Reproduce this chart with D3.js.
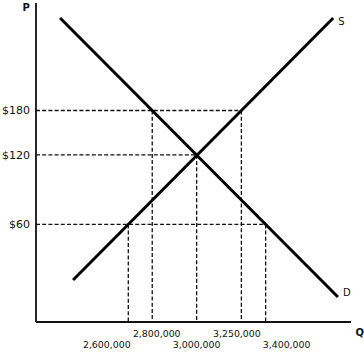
<!DOCTYPE html>
<html>
<head>
<meta charset="utf-8">
<script src="https://cdn.jsdelivr.net/npm/d3@7"></script>
<style>
  html, body { margin: 0; padding: 0; background: #fff; }
  svg { display: block; }
  text { font-family: "DejaVu Sans", Verdana, sans-serif; fill: #111; }
</style>
</head>
<body>
<svg id="chart" width="364" height="352"></svg>
<script>
// ---- data ----
const qTicks = [2600000, 2800000, 3000000, 3250000, 3400000];
const qTickLabels = ["2,600,000", "2,800,000", "3,000,000", "3,250,000", "3,400,000"];
const prices = [60, 120, 180];
const priceLabels = ["$60", "$120", "$180"];
const supplyQ = [2600000, 3000000, 3250000];   // quantity supplied at each price
const demandQ = [3400000, 3000000, 2800000];   // quantity demanded at each price

// ---- layout (schematic, non-proportional axes) ----
const plotLeft = 36, plotRight = 351, plotTop = 3, plotBottom = 322;
const W = plotRight - plotLeft, H = plotBottom - plotTop;
const qFrac = [0.293, 0.369, 0.510, 0.652, 0.729];
const pFrac = [0.306, 0.524, 0.663];
const labelRow = [1, 0, 1, 0, 1];           // 0 = upper row, 1 = lower row
const labelDx = [-21.5, 4.5, 0, -4.5, 21];
const curveTopY = 18, supplyBottomY = 280, demandBottomY = 297;

const x = d3.scaleLinear().domain(qTicks).range(qFrac.map(f => plotLeft + f * W));
const y = d3.scaleLinear().domain(prices).range(pFrac.map(f => plotBottom - f * H));

const svg = d3.select("#chart");

// dashed guide lines
const dash = svg.append("g")
  .attr("stroke", "#111").attr("stroke-width", 1.3)
  .attr("stroke-dasharray", "4,2.2").attr("fill", "none");

prices.forEach((p, i) => {
  const qMax = Math.max(supplyQ[i], demandQ[i]);
  dash.append("line")
    .attr("x1", plotLeft).attr("x2", x(qMax))
    .attr("y1", y(p)).attr("y2", y(p));
});
const vPts = [];
prices.forEach((p, i) => {
  vPts.push({ q: supplyQ[i], p });
  if (demandQ[i] !== supplyQ[i]) vPts.push({ q: demandQ[i], p });
});
vPts.forEach(d => {
  dash.append("line")
    .attr("x1", x(d.q)).attr("x2", x(d.q))
    .attr("y1", y(d.p)).attr("y2", plotBottom);
});

// axes
svg.append("line").attr("x1", plotLeft).attr("x2", plotLeft).attr("y1", plotTop).attr("y2", plotBottom)
  .attr("stroke", "#111").attr("stroke-width", 1.8);
svg.append("line").attr("x1", plotLeft).attr("x2", plotRight).attr("y1", plotBottom).attr("y2", plotBottom)
  .attr("stroke", "#111").attr("stroke-width", 1.8);

// curves: straight lines through the first and last labelled points, extended
function extend(q0, p0, q1, p1, yA, yB) {
  const X0 = x(q0), Y0 = y(p0), X1 = x(q1), Y1 = y(p1);
  const k = (X1 - X0) / (Y1 - Y0);
  return [[X0 + (yA - Y0) * k, yA], [X0 + (yB - Y0) * k, yB]];
}
const sLine = extend(supplyQ[0], prices[0], supplyQ[2], prices[2], supplyBottomY, curveTopY);
const dLine = extend(demandQ[2], prices[2], demandQ[0], prices[0], curveTopY, demandBottomY);

const lineGen = d3.line();
svg.append("path").attr("d", lineGen(sLine)).attr("stroke", "#000").attr("stroke-width", 3).attr("fill", "none");
svg.append("path").attr("d", lineGen(dLine)).attr("stroke", "#000").attr("stroke-width", 3).attr("fill", "none");

// curve labels
svg.append("text").attr("x", sLine[1][0] + 5).attr("y", sLine[1][1] + 7)
  .attr("font-size", 10).text("S");
svg.append("text").attr("x", dLine[1][0] + 5).attr("y", dLine[1][1] - 1)
  .attr("font-size", 10).text("D");

// price labels
svg.selectAll("text.pl").data(prices).enter().append("text")
  .attr("class", "pl")
  .attr("x", 30).attr("y", d => y(d)).attr("dy", "0.36em")
  .attr("text-anchor", "end").attr("font-size", 11)
  .text((d, i) => priceLabels[i]);

// quantity labels
svg.selectAll("text.ql").data(qTicks).enter().append("text")
  .attr("class", "ql")
  .attr("x", (d, i) => x(d) + labelDx[i])
  .attr("y", (d, i) => labelRow[i] ? 347.5 : 336.5)
  .attr("text-anchor", "middle").attr("font-size", 9.4)
  .text((d, i) => qTickLabels[i]);

// axis titles
svg.append("text").attr("x", 22.5).attr("y", 11).attr("font-size", 10).attr("font-weight", "bold").text("P");
svg.append("text").attr("x", 355.5).attr("y", 335.5).attr("font-size", 10).attr("font-weight", "bold").text("Q");
</script>
</body>
</html>
